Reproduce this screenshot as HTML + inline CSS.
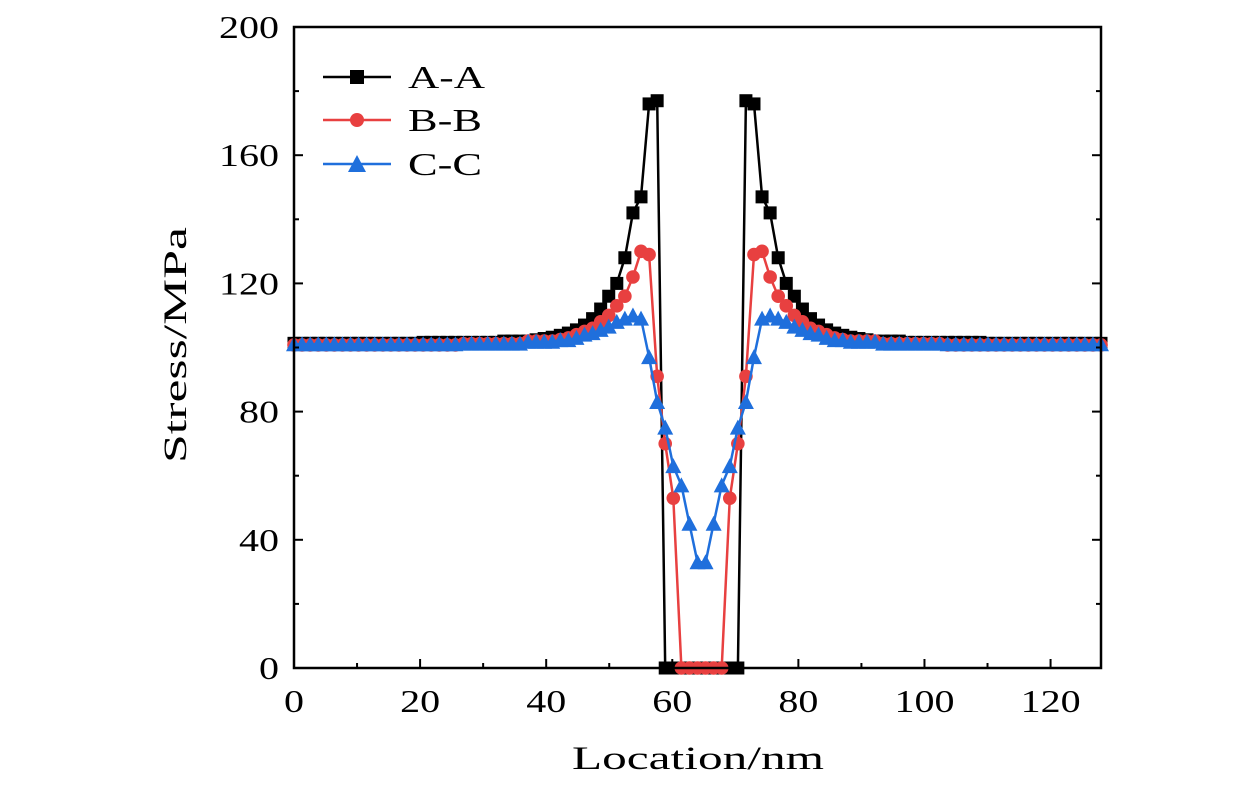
<!DOCTYPE html>
<html><head><meta charset="utf-8">
<style>
html,body{margin:0;padding:0;background:#fff;}
svg{display:block;}
text{font-family:"Liberation Serif","DejaVu Serif",serif;fill:#000;}
</style></head>
<body>
<svg id="chart" width="1260" height="787" viewBox="0 0 1260 787" xmlns="http://www.w3.org/2000/svg">
<g id="marks"></g>
<g id="axes"></g>
<text x="0" y="0" font-size="33" text-anchor="middle" textLength="236" lengthAdjust="spacingAndGlyphs" transform="translate(186,345) rotate(-90)">Stress/MPa</text>
<text x="698" y="769" font-size="33" text-anchor="middle" textLength="252" lengthAdjust="spacingAndGlyphs">Location/nm</text>
<g>
 <g>
  <line x1="323" y1="77" x2="391" y2="77" stroke="#000" stroke-width="2.5"/>
  <rect x="350" y="70" width="14" height="14" fill="#000"/>
  <text x="408" y="88" font-size="32" textLength="77" lengthAdjust="spacingAndGlyphs">A-A</text>
 </g>
 <g>
  <line x1="323" y1="120" x2="391" y2="120" stroke="#e84040" stroke-width="2.5"/>
  <circle cx="357" cy="120" r="7" fill="#e84040"/>
  <text x="408" y="131" font-size="32" textLength="74" lengthAdjust="spacingAndGlyphs">B-B</text>
 </g>
 <g>
  <line x1="323" y1="164" x2="391" y2="164" stroke="#1f6fdc" stroke-width="2.5"/>
  <polygon points="357,155 366,172 348,172" fill="#1f6fdc"/>
  <text x="408" y="175" font-size="32" textLength="74" lengthAdjust="spacingAndGlyphs">C-C</text>
 </g>
</g>
</svg>
<script>
var xs=[0,1.28,2.56,3.84,5.12,6.4,7.68,8.96,10.24,11.52,12.8,14.08,15.36,16.64,17.92,19.2,20.48,21.76,23.04,24.32,25.6,26.88,28.16,29.44,30.72,32,33.28,34.56,35.84,37.12,38.4,39.68,40.96,42.24,43.52,44.8,46.08,47.36,48.64,49.92,51.2,52.48,53.76,55.04,56.32,57.6,58.88,60.16,61.44,62.72,64,65.28,66.56,67.84,69.12,70.4,71.68,72.96,74.24,75.52,76.8,78.08,79.36,80.64,81.92,83.2,84.48,85.76,87.04,88.32,89.6,90.88,92.16,93.44,94.72,96,97.28,98.56,99.84,101.12,102.4,103.68,104.96,106.24,107.52,108.8,110.08,111.36,112.64,113.92,115.2,116.48,117.76,119.04,120.32,121.6,122.88,124.16,125.44,126.72,128];
var seriesA=[101.3,101.3,101.3,101.3,101.3,101.3,101.3,101.3,101.3,101.3,101.3,101.3,101.3,101.3,101.3,101.3,101.6,101.6,101.6,101.6,101.6,101.6,101.6,101.6,101.6,101.6,102,102,102,102,102.4,102.8,103.2,103.8,104.5,105.5,107,109,112,116,120,128,142,147,176,177,0,0,0,0,0,0,0,0,0,0,177,176,147,142,128,120,116,112,109,107,105.5,104.5,103.8,103.2,102.8,102.4,102,102,102,102,101.6,101.6,101.6,101.6,101.6,101.6,101.6,101.6,101.6,101.6,101.3,101.3,101.3,101.3,101.3,101.3,101.3,101.3,101.3,101.3,101.3,101.3,101.3,101.3,101.3];
var seriesB=[100.8,100.8,100.8,100.8,100.8,100.8,100.8,100.8,100.8,100.8,100.8,100.8,100.8,100.8,100.8,100.8,100.8,100.8,100.8,100.8,100.8,101.2,101.2,101.2,101.2,101.2,101.2,101.2,101.2,102,102,102,102,102.5,103,104,105,106,108,110,113,116,122,130,129,91,70,53,0,0,0,0,0,0,53,70,91,129,130,122,116,113,110,108,106,105,104,103,102.5,102,102,102,102,101.2,101.2,101.2,101.2,101.2,101.2,101.2,101.2,100.8,100.8,100.8,100.8,100.8,100.8,100.8,100.8,100.8,100.8,100.8,100.8,100.8,100.8,100.8,100.8,100.8,100.8,100.8,100.8];
var seriesC=[101,101,101,101,101,101,101,101,101,101,101,101,101,101,101,101,101,101,101,101,101,101.2,101.2,101.2,101.2,101.2,101.2,101.2,101.2,101.8,101.8,101.8,101.8,102.3,102.3,103,104,104.5,105.5,106.5,108,109,110,109,97,83,75,63,57,45,33,33,45,57,63,75,83,97,109,110,109,108,106.5,105.5,104.5,104,103,102.3,102.3,101.8,101.8,101.8,101.8,101.2,101.2,101.2,101.2,101.2,101.2,101.2,101.2,101,101,101,101,101,101,101,101,101,101,101,101,101,101,101,101,101,101,101,101];
var xTicks=[0,20,40,60,80,100,120];
var yTicks=[0,40,80,120,160,200];

var NS='http://www.w3.org/2000/svg';
var L=294,R=1101,T=27,B=668,XMAX=128,YMAX=200;
function sx(v){return L+(R-L)*v/XMAX;}
function sy(v){return B-(B-T)*v/YMAX;}
function mk(tag,attrs,parent){var e=document.createElementNS(NS,tag);for(var k in attrs)e.setAttribute(k,attrs[k]);parent.appendChild(e);return e;}
var marks=document.getElementById('marks');
var axes=document.getElementById('axes');
function drawSeries(vals,color,shape,name){
  var n=Math.min(vals.length,xs.length);
  var g=mk('g',{},marks);
  
  
  var arr=[];
  for(var i=0;i<n;i++)arr.push(sx(xs[i]).toFixed(1)+','+sy(vals[i]).toFixed(1));
  var pl=mk('polyline',{points:arr.join(' '),fill:'none',stroke:color,'stroke-width':2.5,'stroke-linejoin':'round'},g);
  
  
  for(var j=0;j<n;j++){
    var x=sx(xs[j]),y=sy(vals[j]),m;
    if(shape==='square'){m=mk('rect',{x:x-6.5,y:y-6.5,width:13,height:13,fill:color},g);}
    else if(shape==='circle'){m=mk('circle',{cx:x,cy:y,r:6.8,fill:color},g);}
    else{m=mk('polygon',{points:x+','+(y-8)+' '+(x+8)+','+(y+7)+' '+(x-8)+','+(y+7),fill:color},g);}
    
    
  }
}
drawSeries(seriesA,'#000','square','series-a-a');
drawSeries(seriesB,'#e84040','circle','series-b-b');
drawSeries(seriesC,'#1f6fdc','triangle','series-c-c');

var frame=mk('rect',{x:L,y:T,width:R-L,height:B-T,fill:'none',stroke:'#000','stroke-width':2.5},axes);


for(var v=0;v<=XMAX;v+=10){
  var len=(v%20===0)?9:5;
  var t=mk('line',{x1:sx(v),y1:B,x2:sx(v),y2:B-len,stroke:'#000','stroke-width':2},axes);
  
  
}
xTicks.forEach(function(v){
  var s=String(v);
  var tx=mk('text',{x:sx(v),y:712,'font-size':32,'text-anchor':'middle',textLength:s.length*20,lengthAdjust:'spacingAndGlyphs'},axes);
  tx.textContent=s;
  
  
});
for(var w=0;w<=YMAX;w+=20){
  var ln=(w%40===0)?9:5;
  var a=mk('line',{x1:L,y1:sy(w),x2:L+ln,y2:sy(w),stroke:'#000','stroke-width':2},axes);
  
  
  var b=mk('line',{x1:R,y1:sy(w),x2:R-ln,y2:sy(w),stroke:'#000','stroke-width':2},axes);
  
  
}
yTicks.forEach(function(v){
  var s=String(v);
  var ty=mk('text',{x:279,y:sy(v)+11,'font-size':32,'text-anchor':'end',textLength:s.length*20,lengthAdjust:'spacingAndGlyphs'},axes);
  ty.textContent=s;
  
  
});
</script>
</body></html>
